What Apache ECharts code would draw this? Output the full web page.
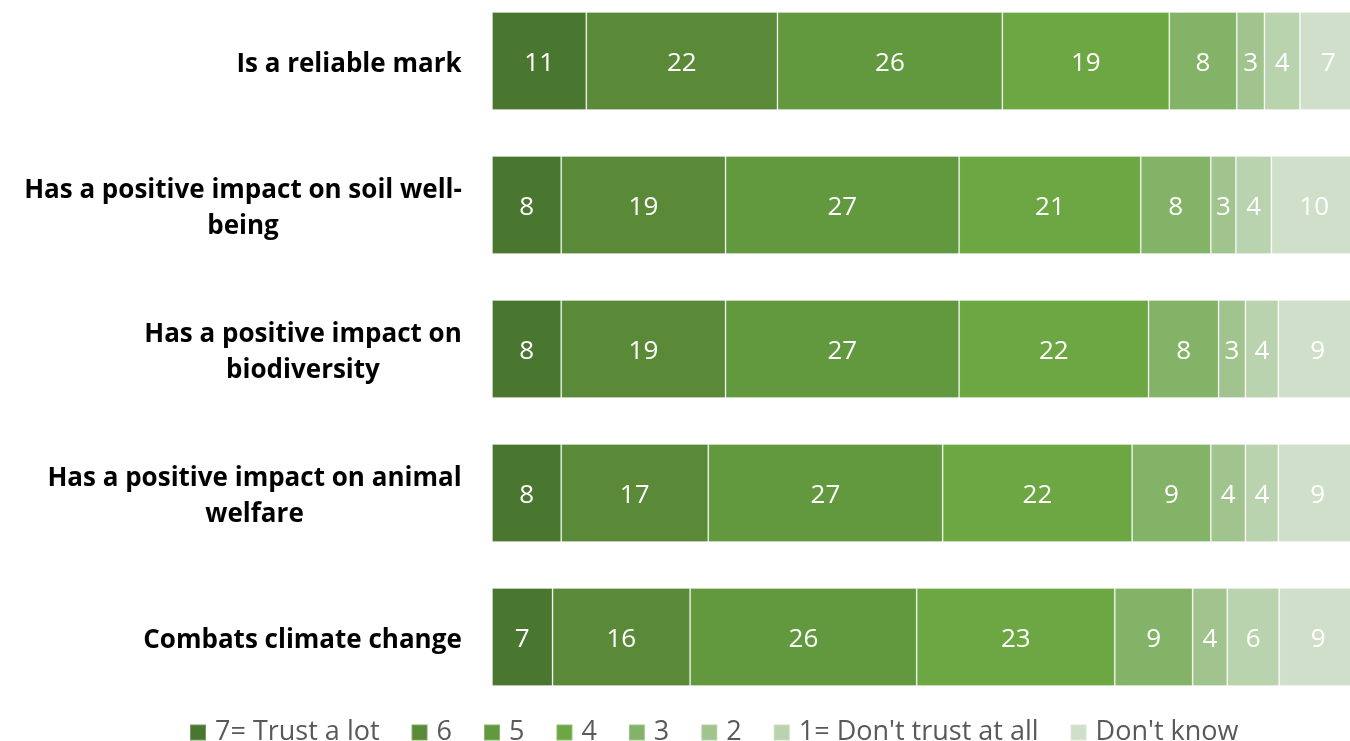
<!DOCTYPE html>
<html><head><meta charset="utf-8">
<script src="https://cdn.jsdelivr.net/npm/echarts@6/dist/echarts.min.js"></script>
<style>html,body{margin:0;padding:0;background:#fff}#c{width:1350px;height:741px}</style>
</head><body><div id="c"></div>
<script>
const categories = [
  "Is a reliable mark",
  "Has a positive impact on soil well-\nbeing",
  "Has a positive impact on\nbiodiversity",
  "Has a positive impact on animal\nwelfare",
  "Combats climate change"
];
const seriesNames = ["7= Trust a lot","6","5","4","3","2","1= Don't trust at all","Don't know"];
const trust7 = [10.9, 8.0, 8.0, 8.0, 7.0];
const trust6 = [22.1, 19.0, 19.0, 17.0, 15.9];
const trust5 = [26.0, 27.0, 27.0, 27.1, 26.2];
const trust4 = [19.3, 21.0, 21.9, 21.9, 22.9];
const trust3 = [7.8, 8.1, 8.1, 9.1, 9.0];
const trust2 = [3.2, 2.9, 3.1, 4.0, 4.0];
const trust1 = [4.1, 4.1, 3.8, 3.8, 6.0];
const dontKnow = [6.6, 9.9, 9.1, 9.1, 9.0];
const values = [trust7, trust6, trust5, trust4, trust3, trust2, trust1, dontKnow];
const colors = ["#4a7730","#5a8a38","#62993f","#6ca743","#82b366","#a1c48f","#b8d3ad","#d0dfc9"];
const font = "'Open Sans', sans-serif";
const labelSize = 26;

// measure each category block so its lines can be centred within it
const ctx = document.createElement('canvas').getContext('2d');
ctx.font = "bold " + labelSize + "px 'Open Sans'";
const rich = {};
categories.forEach((c, i) => {
  const w = Math.max(...c.split('\n').map(l => ctx.measureText(l).width));
  rich['r' + i] = {width: Math.ceil(w), align: 'center', fontFamily: font, fontSize: labelSize,
    fontWeight: 'bold', color: '#000', lineHeight: 36};
});

const chart = echarts.init(document.getElementById('c'));
chart.setOption({
  animation: false,
  grid: {left: 492, width: 865, top: -11, height: 720, outerBoundsMode: 'none', containLabel: false},
  legend: {
    top: 714, left: 184, itemWidth: 16, itemHeight: 16, itemGap: 31,
    icon: 'rect',
    textStyle: {fontFamily: font, fontSize: 27, color: '#595959', padding: [0,0,0,4]},
    data: seriesNames
  },
  xAxis: {type: 'value', min: 0, max: 100, show: false},
  yAxis: {
    type: 'category', data: categories, inverse: true,
    axisLine: {show: false}, axisTick: {show: false},
    axisLabel: {
      margin: 30, align: 'right', padding: [7, 0, 0, 0],
      formatter: (v, i) => v.split('\n').map(l => '{r' + i + '|' + l + '}').join('\n'),
      rich: rich
    }
  },
  series: values.map((v, i) => ({
    name: seriesNames[i], type: 'bar', stack: 'all', data: v, barWidth: 98,
    itemStyle: {color: colors[i], borderColor: 'rgba(255,255,255,0.25)', borderWidth: 1},
    label: {show: true, position: 'inside', color: '#fff', fontFamily: font, fontSize: labelSize,
      offset: [0, 3], formatter: p => Math.round(p.value)}
  }))
});
</script></body></html>
